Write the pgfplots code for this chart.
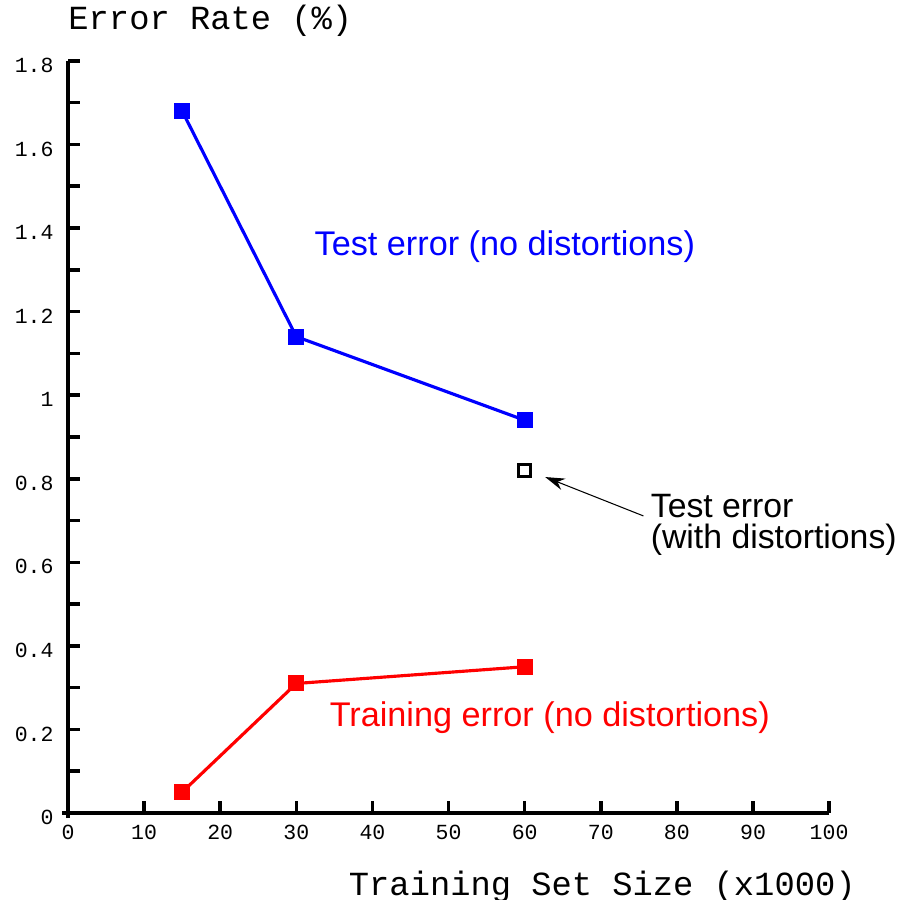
\documentclass[border=0pt]{standalone}
\usepackage{fontspec}
\setmainfont{Liberation Sans}
\newfontfamily\mono{Liberation Mono}
\usepackage{pgfplots}
\pgfplotsset{compat=1.18}
\usetikzlibrary{arrows.meta}
\begin{document}
\begin{tikzpicture}
\begin{axis}[
  anchor=origin, at={(0,0)},
  scale only axis,
  width=253.7bp, height=250.7bp,
  xmin=0, xmax=100, ymin=0, ymax=1.8,
  axis lines*=left,
  axis line style={line width=1.3bp},
  x axis line style={shorten <=-2bp},
  y axis line style={shorten <=-1.7bp},
  tick align=inside,
  major tick length=4bp, minor tick length=4bp,
  every tick/.style={black, line width=1.2bp},
  xtick={0,10,...,100},
  ytick={0,0.2,0.4,0.6,0.8,1,1.2,1.4,1.6,1.8},
  yticklabels={0,0.2,0.4,0.6,0.8,1,1.2,1.4,1.6,1.8},
  minor ytick={0.1,0.3,0.5,0.7,0.9,1.1,1.3,1.5,1.7},
  /pgf/number format/assume math mode=true,
  ticklabel style={font=\mono\fontsize{7.2}{8}\selectfont},
  yticklabel style={xshift=-1.3bp, yshift=-1.5bp},
  xticklabel style={yshift=-0.5bp},
  clip=false,
  xlabel={Training Set Size (x1000)},
  ylabel={Error Rate (\%)},
  every axis x label/.style={at={(rel axis cs:0.702,0)}, anchor=center, yshift=-24.6bp, font=\mono\fontsize{11.3}{13}\selectfont},
  every axis y label/.style={at={(rel axis cs:0.187,1)}, anchor=center, yshift=13.4bp, font=\mono\fontsize{11.3}{13}\selectfont},
]
\addplot[blue, line width=1.05bp, mark=square*, mark size=2.5bp, mark options={solid, fill=blue, line width=0pt}]
  coordinates {(15,1.68) (30,1.14) (60,0.94)};
\addplot[red, line width=1.05bp, mark=square*, mark size=2.5bp, mark options={solid, fill=red, line width=0pt}]
  coordinates {(15,0.05) (30,0.31) (60,0.35)};
\addplot[only marks, black, mark=square, mark size=1.95bp, mark options={line width=1.1bp}]
  coordinates {(60,0.82)};
\node[blue, font=\fontsize{11.45}{13}\selectfont, anchor=center] at (axis cs:57.4,1.355) {Test error (no distortions)};
\node[red, font=\fontsize{11.45}{13}\selectfont, anchor=center] at (axis cs:63.3,0.229) {Training error (no distortions)};
\node[black, font=\fontsize{11.3}{10.5}\selectfont, anchor=west, align=left, inner sep=0pt] at (axis cs:76.5,0.69) {Test error\\(with distortions)};
\draw[line width=0.35bp, -{Stealth[length=6.5bp,width=4bp]}] (axis cs:75.6,0.711) -- (axis cs:62.7,0.804);
\end{axis}
\pgfresetboundingbox
\path (-22.67bp,-29bp) rectangle (276.33bp,271bp);
\end{tikzpicture}
\end{document}
